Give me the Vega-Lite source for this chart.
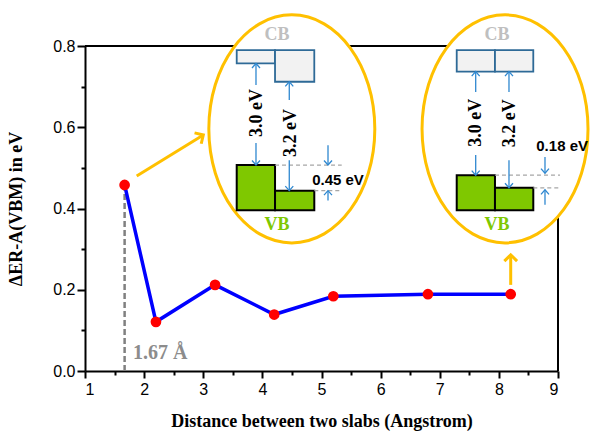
{
  "$schema": "https://vega.github.io/schema/vega-lite/v6.json",
  "width": 473,
  "height": 325,
  "autosize": {"type": "none"},
  "padding": {"left": 85, "top": 46, "right": 34, "bottom": 62},
  "background": "white",
  "config": {
    "view": {"stroke": null},
    "axis": {
      "grid": false,
      "labelFont": "Liberation Sans",
      "labelFontSize": 16,
      "labelColor": "black",
      "tickColor": "black",
      "tickWidth": 2,
      "domainColor": "black",
      "domainWidth": 2,
      "titleFont": "Liberation Serif",
      "titleFontSize": 18,
      "titleFontWeight": "bold",
      "titleColor": "black"
    }
  },
  "datasets": {
    "series": [
      {"d": 1.67, "e": 0.458},
      {"d": 2.2, "e": 0.121},
      {"d": 3.2, "e": 0.212},
      {"d": 4.2, "e": 0.139},
      {"d": 5.2, "e": 0.184},
      {"d": 6.8, "e": 0.189},
      {"d": 8.2, "e": 0.189}
    ],
    "marker": [{"d": 1.67, "lo": 0, "hi": 0.458}],
    "ellipses": [{"x": 4.498, "y": 0.596}, {"x": 8.104, "y": 0.596}],
    "bands": [
      {"band": "CB", "x": 3.566, "x2": 4.214, "y": 0.79, "y2": 0.757},
      {"band": "CB", "x": 4.214, "x2": 4.878, "y": 0.79, "y2": 0.712},
      {"band": "CB", "x": 7.287, "x2": 7.934, "y": 0.79, "y2": 0.737},
      {"band": "CB", "x": 7.934, "x2": 8.582, "y": 0.79, "y2": 0.737},
      {"band": "VB", "x": 3.566, "x2": 4.214, "y": 0.507, "y2": 0.396},
      {"band": "VB", "x": 4.214, "x2": 4.878, "y": 0.444, "y2": 0.396},
      {"band": "VB", "x": 7.287, "x2": 7.934, "y": 0.482, "y2": 0.396},
      {"band": "VB", "x": 7.934, "x2": 8.582, "y": 0.451, "y2": 0.396}
    ],
    "levels": [
      {"x": 4.214, "x2": 5.342, "y": 0.507},
      {"x": 4.878, "x2": 5.342, "y": 0.444},
      {"x": 7.934, "x2": 9.034, "y": 0.482},
      {"x": 8.582, "x2": 9.034, "y": 0.451}
    ],
    "barrows": [
      {"x": 3.892, "tail": 0.704, "tip": 0.757, "dir": "up"},
      {"x": 3.892, "tail": 0.561, "tip": 0.507, "dir": "down"},
      {"x": 4.455, "tail": 0.667, "tip": 0.712, "dir": "up"},
      {"x": 4.455, "tail": 0.519, "tip": 0.444, "dir": "down"},
      {"x": 5.11, "tail": 0.556, "tip": 0.507, "dir": "down"},
      {"x": 5.11, "tail": 0.42, "tip": 0.444, "dir": "up"},
      {"x": 7.608, "tail": 0.687, "tip": 0.737, "dir": "up"},
      {"x": 7.608, "tail": 0.532, "tip": 0.482, "dir": "down"},
      {"x": 8.171, "tail": 0.687, "tip": 0.737, "dir": "up"},
      {"x": 8.171, "tail": 0.519, "tip": 0.451, "dir": "down"},
      {"x": 8.78, "tail": 0.527, "tip": 0.487, "dir": "down"},
      {"x": 8.78, "tail": 0.409, "tip": 0.446, "dir": "up"}
    ],
    "oarrows": [
      {"id": "diag", "x": 1.874, "y": 0.48, "x2": 3.001, "y2": 0.581},
      {"id": "up", "x": 8.2, "y": 0.212, "x2": 8.2, "y2": 0.286}
    ],
    "texts": [
      {"kind": "gap", "x": 3.91, "y": 0.635, "label": "3.0 eV"},
      {"kind": "gap", "x": 4.48, "y": 0.586, "label": "3.2 eV"},
      {"kind": "gap", "x": 7.62, "y": 0.611, "label": "3.0 eV"},
      {"kind": "gap", "x": 8.18, "y": 0.61, "label": "3.2 eV"},
      {"kind": "offset", "x": 5.279, "y": 0.47, "label": "0.45 eV"},
      {"kind": "offset", "x": 9.07, "y": 0.555, "label": "0.18 eV"},
      {"kind": "cb", "x": 4.247, "y": 0.827, "label": "CB"},
      {"kind": "cb", "x": 7.968, "y": 0.827, "label": "CB"},
      {"kind": "vb", "x": 4.247, "y": 0.359, "label": "VB"},
      {"kind": "vb", "x": 7.968, "y": 0.359, "label": "VB"},
      {"kind": "dist", "x": 1.812, "y": 0.044, "label": "1.67 Å"}
    ]
  },
  "layer": [
    {
      "data": {"values": [{}]},
      "mark": {"type": "rule", "color": "black", "strokeWidth": 2},
      "encoding": {"y": {"datum": 0.8, "type": "quantitative", "scale": {"domain": [0, 0.8], "nice": false, "zero": false}, "axis": null}}
    },
    {
      "data": {"values": [{}]},
      "mark": {"type": "rule", "color": "black", "strokeWidth": 2},
      "encoding": {"x": {"datum": 9, "type": "quantitative", "scale": {"domain": [1, 9], "nice": false, "zero": false}, "axis": null}}
    },
    {
      "data": {"name": "marker"},
      "mark": {"type": "rule", "color": "#808080", "strokeWidth": 2.5, "strokeDash": [6, 3]},
      "encoding": {
        "x": {"field": "d", "type": "quantitative", "scale": {"domain": [1, 9], "nice": false, "zero": false}, "axis": null},
        "y": {"field": "lo", "type": "quantitative", "scale": {"domain": [0, 0.8], "nice": false, "zero": false}, "axis": null},
        "y2": {"field": "hi"}
      }
    },
    {
      "data": {"name": "series"},
      "mark": {"type": "line", "color": "#0000FF", "strokeWidth": 3.5},
      "encoding": {
        "x": {
          "field": "d", "type": "quantitative",
          "scale": {"domain": [1, 9], "nice": false, "zero": false},
          "axis": {"orient": "bottom", "values": [1, 2, 3, 4, 5, 6, 7, 8, 9], "format": "d", "tickSize": 7, "labelPadding": 3, "title": "Distance between two slabs (Angstrom)", "titlePadding": 15}
        },
        "y": {
          "field": "e", "type": "quantitative",
          "scale": {"domain": [0, 0.8], "nice": false, "zero": false},
          "axis": {"orient": "left", "values": [0, 0.2, 0.4, 0.6, 0.8], "format": ".1f", "tickSize": 8, "labelPadding": 2, "title": "ΔER-A(VBM) in eV", "titlePadding": 27}
        }
      }
    },
    {
      "data": {"name": "series"},
      "mark": {"type": "circle", "color": "#FF0000", "size": 115, "opacity": 1},
      "encoding": {
        "x": {
          "field": "d", "type": "quantitative",
          "scale": {"domain": [1, 9], "nice": false, "zero": false},
          "axis": {"orient": "bottom", "values": [1.5, 2.5, 3.5, 4.5, 5.5, 6.5, 7.5, 8.5], "labels": false, "domain": false, "tickSize": 4, "title": null}
        },
        "y": {
          "field": "e", "type": "quantitative",
          "scale": {"domain": [0, 0.8], "nice": false, "zero": false},
          "axis": {"orient": "left", "values": [0.1, 0.3, 0.5, 0.7], "labels": false, "domain": false, "tickSize": 4, "title": null}
        }
      }
    },
    {
      "data": {"name": "texts"},
      "transform": [{"filter": "datum.kind === 'dist'"}],
      "mark": {"type": "text", "font": "Liberation Serif", "fontWeight": "bold", "fontSize": 20, "color": "#8C8C8C", "align": "left", "baseline": "middle"},
      "encoding": {
        "x": {"field": "x", "type": "quantitative", "scale": {"domain": [1, 9], "nice": false, "zero": false}, "axis": null},
        "y": {"field": "y", "type": "quantitative", "scale": {"domain": [0, 0.8], "nice": false, "zero": false}, "axis": null},
        "text": {"field": "label"}
      }
    },
    {
      "data": {"name": "oarrows"},
      "mark": {"type": "rule", "color": "#FFC000", "strokeWidth": 3},
      "encoding": {
        "x": {"field": "x", "type": "quantitative", "scale": {"domain": [1, 9], "nice": false, "zero": false}, "axis": null},
        "y": {"field": "y", "type": "quantitative", "scale": {"domain": [0, 0.8], "nice": false, "zero": false}, "axis": null},
        "x2": {"field": "x2"},
        "y2": {"field": "y2"}
      }
    },
    {
      "data": {"name": "oarrows"},
      "transform": [{"filter": "datum.id === 'diag'"}],
      "mark": {"type": "point", "shape": "M -0.9 0.9 L 0 0 L 0.9 0.9", "size": 200, "filled": false, "color": "#FFC000", "strokeWidth": 3, "opacity": 1, "angle": 58.4},
      "encoding": {
        "x": {"field": "x2", "type": "quantitative", "scale": {"domain": [1, 9], "nice": false, "zero": false}, "axis": null},
        "y": {"field": "y2", "type": "quantitative", "scale": {"domain": [0, 0.8], "nice": false, "zero": false}, "axis": null}
      }
    },
    {
      "data": {"name": "oarrows"},
      "transform": [{"filter": "datum.id === 'up'"}],
      "mark": {"type": "point", "shape": "M -0.9 0.9 L 0 0 L 0.9 0.9", "size": 200, "filled": false, "color": "#FFC000", "strokeWidth": 3, "opacity": 1},
      "encoding": {
        "x": {"field": "x2", "type": "quantitative", "scale": {"domain": [1, 9], "nice": false, "zero": false}, "axis": null},
        "y": {"field": "y2", "type": "quantitative", "scale": {"domain": [0, 0.8], "nice": false, "zero": false}, "axis": null}
      }
    },
    {
      "data": {"name": "ellipses"},
      "mark": {"type": "point", "shape": "M -0.728 0 A 0.728 1 0 1 1 0.728 0 A 0.728 1 0 1 1 -0.728 0 Z", "size": 51984, "filled": true, "fill": "white", "stroke": "#FFC000", "strokeWidth": 3, "opacity": 1},
      "encoding": {
        "x": {"field": "x", "type": "quantitative", "scale": {"domain": [1, 9], "nice": false, "zero": false}, "axis": null},
        "y": {"field": "y", "type": "quantitative", "scale": {"domain": [0, 0.8], "nice": false, "zero": false}, "axis": null}
      }
    },
    {
      "data": {"name": "bands"},
      "transform": [{"filter": "datum.band === 'CB'"}],
      "mark": {"type": "rect", "fill": "#F2F2F2", "stroke": "#2E6A97", "strokeWidth": 1.8},
      "encoding": {
        "x": {"field": "x", "type": "quantitative", "scale": {"domain": [1, 9], "nice": false, "zero": false}, "axis": null},
        "x2": {"field": "x2"},
        "y": {"field": "y", "type": "quantitative", "scale": {"domain": [0, 0.8], "nice": false, "zero": false}, "axis": null},
        "y2": {"field": "y2"}
      }
    },
    {
      "data": {"name": "bands"},
      "transform": [{"filter": "datum.band === 'VB'"}],
      "mark": {"type": "rect", "fill": "#7FC800", "stroke": "black", "strokeWidth": 2},
      "encoding": {
        "x": {"field": "x", "type": "quantitative", "scale": {"domain": [1, 9], "nice": false, "zero": false}, "axis": null},
        "x2": {"field": "x2"},
        "y": {"field": "y", "type": "quantitative", "scale": {"domain": [0, 0.8], "nice": false, "zero": false}, "axis": null},
        "y2": {"field": "y2"}
      }
    },
    {
      "data": {"name": "levels"},
      "mark": {"type": "rule", "color": "#A6A6A6", "strokeWidth": 1.2, "strokeDash": [4, 3]},
      "encoding": {
        "x": {"field": "x", "type": "quantitative", "scale": {"domain": [1, 9], "nice": false, "zero": false}, "axis": null},
        "x2": {"field": "x2"},
        "y": {"field": "y", "type": "quantitative", "scale": {"domain": [0, 0.8], "nice": false, "zero": false}, "axis": null}
      }
    },
    {
      "data": {"name": "barrows"},
      "mark": {"type": "rule", "color": "#2F88D0", "strokeWidth": 1.3},
      "encoding": {
        "x": {"field": "x", "type": "quantitative", "scale": {"domain": [1, 9], "nice": false, "zero": false}, "axis": null},
        "y": {"field": "tail", "type": "quantitative", "scale": {"domain": [0, 0.8], "nice": false, "zero": false}, "axis": null},
        "y2": {"field": "tip"}
      }
    },
    {
      "data": {"name": "barrows"},
      "mark": {"type": "point", "size": 130, "filled": false, "color": "#2F88D0", "strokeWidth": 1.3, "opacity": 1},
      "encoding": {
        "x": {"field": "x", "type": "quantitative", "scale": {"domain": [1, 9], "nice": false, "zero": false}, "axis": null},
        "y": {"field": "tip", "type": "quantitative", "scale": {"domain": [0, 0.8], "nice": false, "zero": false}, "axis": null},
        "shape": {"field": "dir", "type": "nominal", "scale": {"domain": ["up", "down"], "range": ["M -0.7 0.8 L 0 0 L 0.7 0.8", "M -0.7 -0.8 L 0 0 L 0.7 -0.8"]}, "legend": null}
      }
    },
    {
      "data": {"name": "texts"},
      "transform": [{"filter": "datum.kind === 'gap'"}],
      "mark": {"type": "text", "font": "Liberation Serif", "fontWeight": "bold", "fontSize": 18, "color": "black", "align": "center", "baseline": "middle", "angle": 270},
      "encoding": {
        "x": {"field": "x", "type": "quantitative", "scale": {"domain": [1, 9], "nice": false, "zero": false}, "axis": null},
        "y": {"field": "y", "type": "quantitative", "scale": {"domain": [0, 0.8], "nice": false, "zero": false}, "axis": null},
        "text": {"field": "label"}
      }
    },
    {
      "data": {"name": "texts"},
      "transform": [{"filter": "datum.kind === 'offset'"}],
      "mark": {"type": "text", "font": "Liberation Sans", "fontWeight": "bold", "fontSize": 15, "color": "black", "align": "center", "baseline": "middle"},
      "encoding": {
        "x": {"field": "x", "type": "quantitative", "scale": {"domain": [1, 9], "nice": false, "zero": false}, "axis": null},
        "y": {"field": "y", "type": "quantitative", "scale": {"domain": [0, 0.8], "nice": false, "zero": false}, "axis": null},
        "text": {"field": "label"}
      }
    },
    {
      "data": {"name": "texts"},
      "transform": [{"filter": "datum.kind === 'cb'"}],
      "mark": {"type": "text", "font": "Liberation Serif", "fontWeight": "bold", "fontSize": 18, "color": "#BFBFBF", "align": "center", "baseline": "middle"},
      "encoding": {
        "x": {"field": "x", "type": "quantitative", "scale": {"domain": [1, 9], "nice": false, "zero": false}, "axis": null},
        "y": {"field": "y", "type": "quantitative", "scale": {"domain": [0, 0.8], "nice": false, "zero": false}, "axis": null},
        "text": {"field": "label"}
      }
    },
    {
      "data": {"name": "texts"},
      "transform": [{"filter": "datum.kind === 'vb'"}],
      "mark": {"type": "text", "font": "Liberation Serif", "fontWeight": "bold", "fontSize": 18, "color": "#7FC800", "align": "center", "baseline": "middle"},
      "encoding": {
        "x": {"field": "x", "type": "quantitative", "scale": {"domain": [1, 9], "nice": false, "zero": false}, "axis": null},
        "y": {"field": "y", "type": "quantitative", "scale": {"domain": [0, 0.8], "nice": false, "zero": false}, "axis": null},
        "text": {"field": "label"}
      }
    }
  ],
  "resolve": {"axis": {"x": "independent", "y": "independent"}}
}
